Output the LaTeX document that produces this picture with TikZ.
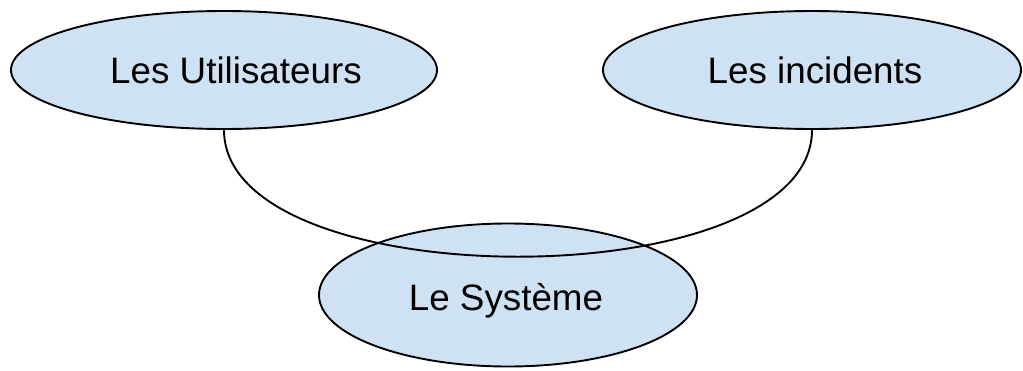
\documentclass[tikz,border=0pt]{standalone}
\usepackage{fontspec}
\setmainfont{Liberation Sans}
\usetikzlibrary{shapes}

\definecolor{bleuclair}{RGB}{207,226,243}

\begin{document}
\begin{tikzpicture}[x=1pt,y=-1pt,
  bulle/.style={ellipse,draw,line width=1.9pt,fill=bleuclair,inner sep=0pt},
  every label/.style={font=\fontsize{36.8}{44}\selectfont,
    text height=26.5pt,text depth=0pt,inner sep=0pt},
  lien/.style={line width=1.9pt}]
  \fill[color=white] (0,0) rectangle (1023,370);
  \node[bulle,minimum width=426pt,minimum height=118pt,
    label={[xshift=12pt]center:Les Utilisateurs}] (util) at (224,70) {};
  \node[bulle,minimum width=418pt,minimum height=118pt,
    label={[xshift=3pt]center:Les incidents}] (inc) at (812,70) {};
  \node[bulle,minimum width=378pt,minimum height=143pt,
    label={[xshift=-2pt,yshift=-2pt]center:Le Système}] (sys) at (508,295) {};
  \draw[lien] (util.south) .. controls +(0,169) and +(0,169) .. (inc.south);
\end{tikzpicture}
\end{document}
